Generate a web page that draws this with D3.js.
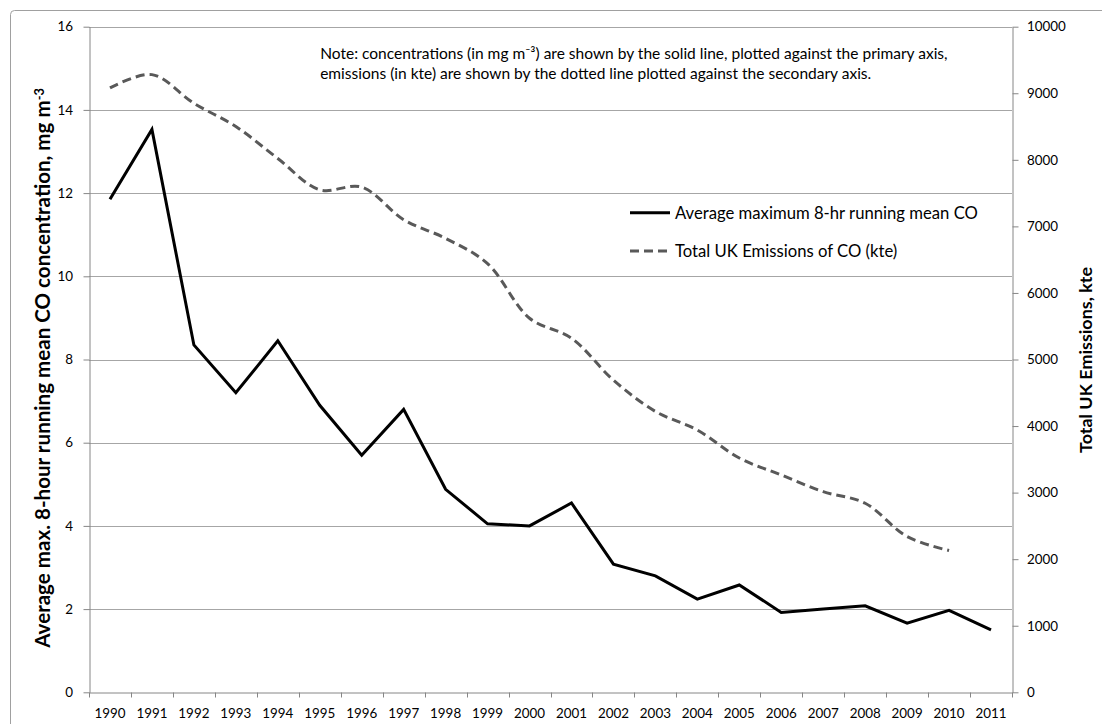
<!DOCTYPE html>
<html>
<head>
<meta charset="utf-8">
<script src="https://cdn.jsdelivr.net/npm/d3@7"></script>
<style>
  html, body { margin: 0; padding: 0; background: #fff; }
  svg { display: block; }
  text { font-family: Lato, "Open Sans", sans-serif; fill: #000; }
</style>
</head>
<body>
<svg id="chart" width="1102" height="724"></svg>
<script>
// Years on the category axis
const years = ["1990","1991","1992","1993","1994","1995","1996","1997","1998","1999","2000",
               "2001","2002","2003","2004","2005","2006","2007","2008","2009","2010","2011"];

// Average maximum 8-hr running mean CO concentration (mg m-3)
const concentration = [11.85, 13.53, 8.35, 7.2, 8.45, 6.9, 5.7, 6.8, 4.88, 4.05, 4.0,
                       4.55, 3.08, 2.8, 2.24, 2.58, 1.92, 2.0, 2.08, 1.66, 1.97, 1.5];

// Total UK emissions of CO (kte), 1990-2010
const emissions = [9080, 9280, 8850, 8500, 8020, 7550, 7590, 7100, 6820, 6440, 5620,
                   5320, 4690, 4220, 3940, 3520, 3265, 3015, 2840, 2340, 2130];

const leftTicks = [0, 2, 4, 6, 8, 10, 12, 14, 16];
const rightTicks = [0, 1000, 2000, 3000, 4000, 5000, 6000, 7000, 8000, 9000, 10000];

const seriesNames = ["Average maximum 8-hr running mean CO", "Total UK Emissions of CO (kte)"];
const noteLines = [
  "Note: concentrations (in mg m\u207B\u00B3) are shown by the solid line, plotted against the primary axis,",
  "emissions (in kte) are shown by the dotted line plotted against the secondary axis."
];

const svg = d3.select("#chart");
const plot = { left: 89, right: 1012, top: 26.7, bottom: 692.3 };

const x = d3.scaleBand().domain(years).range([plot.left, plot.right]).padding(0);
const y1 = d3.scaleLinear().domain([0, 16]).range([plot.bottom, plot.top]);
const y2 = d3.scaleLinear().domain([0, 10000]).range([plot.bottom, plot.top]);
const cx = d => x(d) + x.bandwidth() / 2;

const axisGrey = "#868686";
const gridGrey = "#a6a6a6";
const tickFont = 13.4;

// Scale a text element's font so its run covers the given length
function fitLength(node, length) {
  const fs = parseFloat(node.getAttribute("font-size"));
  node.setAttribute("font-size", fs * length / node.getComputedTextLength());
}

// Outer chart frame
svg.append("rect")
  .attr("x", 10.5).attr("y", 10.5).attr("width", 1110).attr("height", 730)
  .attr("rx", 4).attr("fill", "#fff").attr("stroke", "#a0a0a0").attr("stroke-width", 1);

// Horizontal gridlines on the primary scale
svg.append("g").selectAll("line").data(leftTicks.filter(t => t > 0)).join("line")
  .attr("x1", plot.left).attr("x2", plot.right)
  .attr("y1", d => Math.round(y1(d)) + 0.5).attr("y2", d => Math.round(y1(d)) + 0.5)
  .attr("stroke", gridGrey).attr("stroke-width", 1);

function styleAxis(g) {
  g.select(".domain").attr("stroke", axisGrey);
  g.selectAll(".tick line").attr("stroke", axisGrey);
  g.selectAll(".tick text").attr("font-size", tickFont).attr("fill", "#000")
    .attr("font-family", "Lato, 'Open Sans', sans-serif");
}

// Primary (left) axis
svg.append("g")
  .attr("transform", `translate(${plot.left + 0.5},0)`)
  .call(d3.axisLeft(y1).tickValues(leftTicks).tickFormat(d3.format("d")).tickSize(6).tickSizeOuter(0).tickPadding(10.5))
  .call(styleAxis);

// Secondary (right) axis
svg.append("g")
  .attr("transform", `translate(${plot.right + 0.5},0)`)
  .call(d3.axisRight(y2).tickValues(rightTicks).tickFormat(d3.format("d")).tickSize(6).tickSizeOuter(0).tickPadding(8.5))
  .call(styleAxis);

// Category axis with ticks between the years
const xAxis = svg.append("g")
  .attr("transform", `translate(0,${Math.round(plot.bottom) + 0.5})`)
  .call(d3.axisBottom(x).tickSize(0).tickPadding(15.5))
  .call(styleAxis);
xAxis.selectAll(".sep").data(d3.range(years.length + 1)).join("line")
  .attr("class", "sep")
  .attr("x1", i => Math.round(plot.left + i * x.bandwidth()) + 0.5)
  .attr("x2", i => Math.round(plot.left + i * x.bandwidth()) + 0.5)
  .attr("y1", 0).attr("y2", 5)
  .attr("stroke", axisGrey);

// Emissions line (secondary axis), smoothed and dashed
svg.append("path")
  .datum(emissions)
  .attr("fill", "none")
  .attr("stroke", "#595959")
  .attr("stroke-width", 3)
  .attr("stroke-dasharray", "9,5")
  .attr("d", d3.line().x((d, i) => cx(years[i])).y(d => y2(d)).curve(d3.curveCatmullRom.alpha(0.5)));

// Concentration line (primary axis)
svg.append("path")
  .datum(concentration)
  .attr("fill", "none")
  .attr("stroke", "#000")
  .attr("stroke-width", 3)
  .attr("stroke-linejoin", "miter")
  .attr("d", d3.line().x((d, i) => cx(years[i])).y(d => y1(d)));

// Axis titles
const leftTitle = svg.append("text")
  .attr("transform", "translate(49.5,368) rotate(-90)")
  .attr("text-anchor", "middle")
  .attr("font-size", 20).attr("font-weight", "bold")
  .text("Average max. 8-hour running mean CO concentration,  mg m");
leftTitle.append("tspan").attr("dy", "-0.45em").attr("font-size", "0.62em").text("-3");
fitLength(leftTitle.node(), 560);

const rightTitle = svg.append("text")
  .attr("transform", "translate(1092,360) rotate(-90)")
  .attr("text-anchor", "middle")
  .attr("font-size", 17).attr("font-weight", "bold")
  .text("Total UK Emissions, kte");
fitLength(rightTitle.node(), 186);

// Note, two lines in a text box above the plot
const note = svg.append("g").selectAll("text").data(noteLines).join("text")
  .attr("y", (d, i) => 58.5 + i * 20)
  .attr("font-size", 16)
  .text(d => d);
{
  // size the note so "concentrations ... plotted again" runs 458px, starting at x=362
  const first = note.nodes()[0];
  const s = noteLines[0].indexOf("concentrations");
  const e = noteLines[0].indexOf("against") + 5;
  const run = first.getSubStringLength(s, e - s);
  const fs = 16 * 458 / run;
  note.attr("font-size", fs);
  const lead = first.getSubStringLength(0, s);
  note.attr("x", 362 - lead);
}

// Legend
const legend = svg.append("g");
const legendRows = [
  { name: seriesNames[0], color: "#000", dash: null, y: 212.7 },
  { name: seriesNames[1], color: "#595959", dash: "9,5", y: 251 }
];
legendRows.forEach(r => {
  legend.append("line")
    .attr("x1", 630).attr("x2", 670).attr("y1", r.y).attr("y2", r.y)
    .attr("stroke", r.color).attr("stroke-width", 3)
    .attr("stroke-dasharray", r.dash);
  legend.append("text")
    .attr("class", "legend-label")
    .attr("x", 675).attr("y", r.y).attr("dy", "0.35em")
    .attr("font-size", 16.6)
    .text(r.name);
});
{
  const lbl = legend.select(".legend-label").node();
  fitLength(lbl, 303);
  legend.selectAll(".legend-label").attr("font-size", lbl.getAttribute("font-size"));
}
</script>
</body>
</html>
